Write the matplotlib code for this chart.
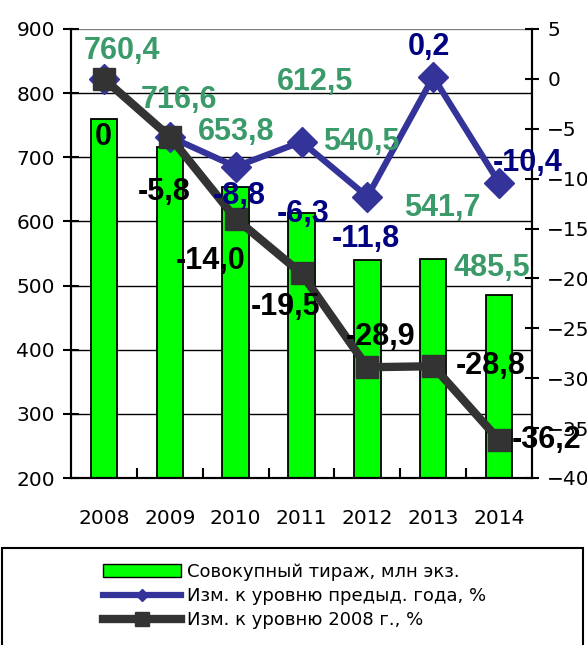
import matplotlib.pyplot as plt
from matplotlib.lines import Line2D
from matplotlib.patches import Patch, Rectangle
import numpy as np

# data
years = ["2008", "2009", "2010", "2011", "2012", "2013", "2014"]
circulation = [760.4, 716.6, 653.8, 612.5, 540.5, 541.7, 485.5]
chg_prev = [0.0, -5.8, -8.8, -6.3, -11.8, 0.2, -10.4]
chg_2008 = [0.0, -5.8, -14.0, -19.5, -28.9, -28.8, -36.2]

circ_labels = ["760,4", "716,6", "653,8", "612,5", "540,5", "541,7", "485,5"]
prev_labels = [None, None, "-8,8", "-6,3", "-11,8", "0,2", "-10,4"]
base_labels = ["0", "-5,8", "-14,0", "-19,5", "-28,9", "-28,8", "-36,2"]

# label offsets in pixels (dx, dy) relative to the point
circ_off = [(18, 68), (9, 47), (1, 55), (14, 131), (-6, 118), (9, 51), (-7, 27)]
prev_off = [None, None, (4, -29), (2, -72), (-1, -42), (-4, 30), (29, 20)]
base_off = [(-1, -58), (-6, -55), (-25, -42), (-16, -34), (13, 30), (57, 0), (47, 0)]

GREEN = "#00FF00"
LABEL_GREEN = "#3A9A6A"
NAVY = "#000080"
BLUE = "#333399"
DARK = "#333333"

plt.rcParams["font.family"] = "DejaVu Sans"

fig = plt.figure(figsize=(5.87, 6.45), dpi=100)
ax = fig.add_axes([71 / 587, 1 - 478 / 645, (532 - 71) / 587, (478 - 29) / 645])
ax2 = ax.twinx()

x = np.arange(len(years))
ax.bar(x, circulation, width=0.4, color=GREEN, edgecolor="black", linewidth=1.3, zorder=2)
ax.set_xlim(-0.5, len(years) - 0.5)
ax.set_ylim(200, 900)
ax.set_yticks(range(200, 901, 100))
for v in range(300, 900, 100):
    ax.axhline(v, color="black", linewidth=1, zorder=1)
ax.axhline(900, color="#808080", linewidth=1, zorder=1)

ax2.plot(x, chg_prev, color=BLUE, linewidth=4.5, marker="D", markersize=15,
         zorder=3)
ax2.plot(x, chg_2008, color=DARK, linewidth=6, marker="s", markersize=16,
         zorder=4)
ax2.set_ylim(-40, 5)
ax2.set_yticks(range(-40, 6, 5))

for a in (ax, ax2):
    a.spines["top"].set_visible(False)
    for s in ("left", "right", "bottom"):
        a.spines[s].set_linewidth(1.5)

ax.tick_params(axis="y", direction="inout", length=11, width=1.5, labelsize=14.5, pad=6)
ax2.tick_params(axis="y", direction="inout", length=10, width=1.5, labelsize=14.5, pad=6)
ax.set_xticks(x)
ax.set_xticklabels(years)
ax.set_xticks(np.arange(0.5, len(years) - 1, 1), minor=True)
ax.tick_params(axis="x", which="major", length=0, labelsize=14.5, pad=22)
ax.tick_params(axis="x", which="minor", direction="in", length=7, width=1.5)
ax.set_zorder(0)
ax2.set_zorder(1)
ax.patch.set_visible(False)

lab_font = dict(fontsize=22, fontweight="bold", family="Liberation Sans",
                ha="center", va="center", textcoords="offset pixels", zorder=6)
for i, (v, t, o) in enumerate(zip(circulation, circ_labels, circ_off)):
    # bar value mapped onto the right axis so every label lives on ax2
    y2 = ax2.transData.inverted().transform(ax.transData.transform((i, v)))[1]
    ax2.annotate(t, xy=(i, y2), xytext=o, color=LABEL_GREEN, **lab_font)
for i, (v, t, o) in enumerate(zip(chg_prev, prev_labels, prev_off)):
    if t is not None:
        ax2.annotate(t, xy=(i, v), xytext=o, color=NAVY, **lab_font)
for i, (v, t, o) in enumerate(zip(chg_2008, base_labels, base_off)):
    ax2.annotate(t, xy=(i, v), xytext=o, color="black", **lab_font)

# legend box (runs past the bottom edge like the original)
fig.patches.append(Rectangle((2 / 587, -0.05), 581 / 587, 0.05 + 1 - 548 / 645,
                             transform=fig.transFigure, fill=False,
                             edgecolor="black", linewidth=1.5))
handles = [
    Patch(facecolor=GREEN, edgecolor="black", linewidth=1),
    Line2D([], [], color=BLUE, linewidth=4.5, marker="D", markersize=6),
    Line2D([], [], color=DARK, linewidth=6, marker="s", markersize=10),
]
labels = ["Совокупный тираж, млн экз.", "Изм. к уровню предыд. года, %",
          "Изм. к уровню 2008 г., %"]
fig.legend(handles, labels, loc="center left", bbox_to_anchor=(94 / 587, 1 - 596 / 645),
           frameon=False, fontsize=13, handlelength=4.3, handleheight=0.7,
           handletextpad=0.35, labelspacing=0.35, borderpad=0)

fig.savefig("out.png", dpi=100)
